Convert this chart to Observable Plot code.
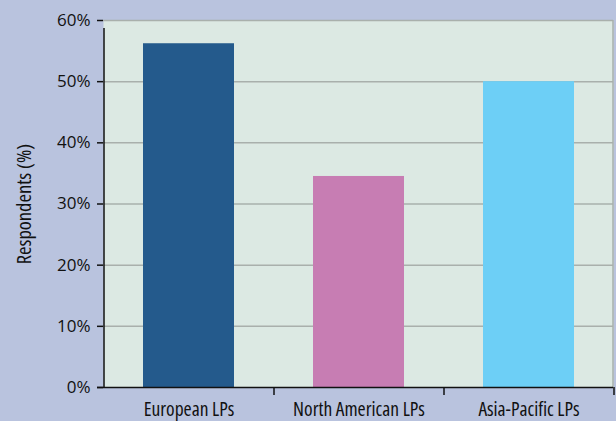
<!DOCTYPE html>
<html>
<head>
<meta charset="utf-8">
<script src="https://cdn.jsdelivr.net/npm/d3@7"></script>
<script src="https://cdn.jsdelivr.net/npm/@observablehq/plot@0.6"></script>
<style>
  html, body { margin: 0; padding: 0; background: #b9c3de; }
  #chart { width: 616px; height: 421px; }
  #chart svg text.condensed, #chart svg .condensed text { font-stretch: 87.5%; }
</style>
</head>
<body>
<div id="chart"></div>
<script>
// Share of respondents by LP region
const categories = ["European LPs", "North American LPs", "Asia-Pacific LPs"];
const values = [56.2, 34.5, 50.0];
const barColors = ["#245a8c", "#c77db3", "#6dcff6"];
const yTicks = [0, 10, 20, 30, 40, 50, 60];
const gridTicks = [10, 20, 30, 40, 50, 60];

const data = categories.map((c, i) => ({region: c, value: values[i], color: barColors[i]}));

const width = 616, height = 421;
const marginLeft = 103, marginRight = 3, marginTop = 20, marginBottom = 34;
const step = (width - marginLeft - marginRight) / categories.length;
const font = "'Open Sans', 'DejaVu Sans Condensed', sans-serif";

const chart = Plot.plot({
  width, height, marginLeft, marginRight, marginTop, marginBottom,
  style: {background: "#b9c3de", fontFamily: font, color: "#111"},
  x: {domain: categories, paddingInner: 0.465, paddingOuter: 0.2325, label: null},
  y: {domain: [0, 60], label: null},
  marks: [
    Plot.frame({fill: "#dce9e3", stroke: null}),
    Plot.ruleY(gridTicks, {stroke: "#a9b0ac", strokeWidth: 1.5}),
    Plot.barY(data, {x: "region", y: "value", fill: "color"}),
    // right edge of the plotting area
    Plot.ruleX([categories[categories.length - 1]], {dx: step / 2 - 1, y1: 0, y2: 60, stroke: "#a9b0ac", strokeWidth: 1.5}),
    // left axis line, extended below the baseline into the first category tick
    Plot.ruleX([categories[0]], {dx: -step / 2, y1: 0, y2: 60, insetBottom: -8, stroke: "#111", strokeWidth: 1.5}),
    // category boundary ticks below the baseline
    Plot.ruleX(categories.slice(1), {dx: -step / 2, y1: 0, y2: 0, insetBottom: -8, stroke: "#111", strokeWidth: 1.5}),
    Plot.ruleX([categories[categories.length - 1]], {dx: step / 2, y1: 0, y2: 0, insetBottom: -8, stroke: "#111", strokeWidth: 1.5}),
    Plot.ruleY([0], {insetLeft: -6, stroke: "#111", strokeWidth: 1.5}),
    Plot.axisY({ticks: yTicks, tickFormat: d => d + "%", tickSize: 6, tickPadding: 7, fontSize: 17, stroke: "#111", strokeWidth: 1.5, label: null}),
    Plot.axisX({tickSize: 0, tickPadding: 15, fontSize: 19.5, label: null, className: "condensed"}),
    Plot.text(["Respondents (%)"], {frameAnchor: "left", textAnchor: "middle", rotate: -90, dx: -79, fontSize: 20.5, fill: "#111", className: "condensed"})
  ]
});

document.getElementById("chart").appendChild(chart);
</script>
</body>
</html>
